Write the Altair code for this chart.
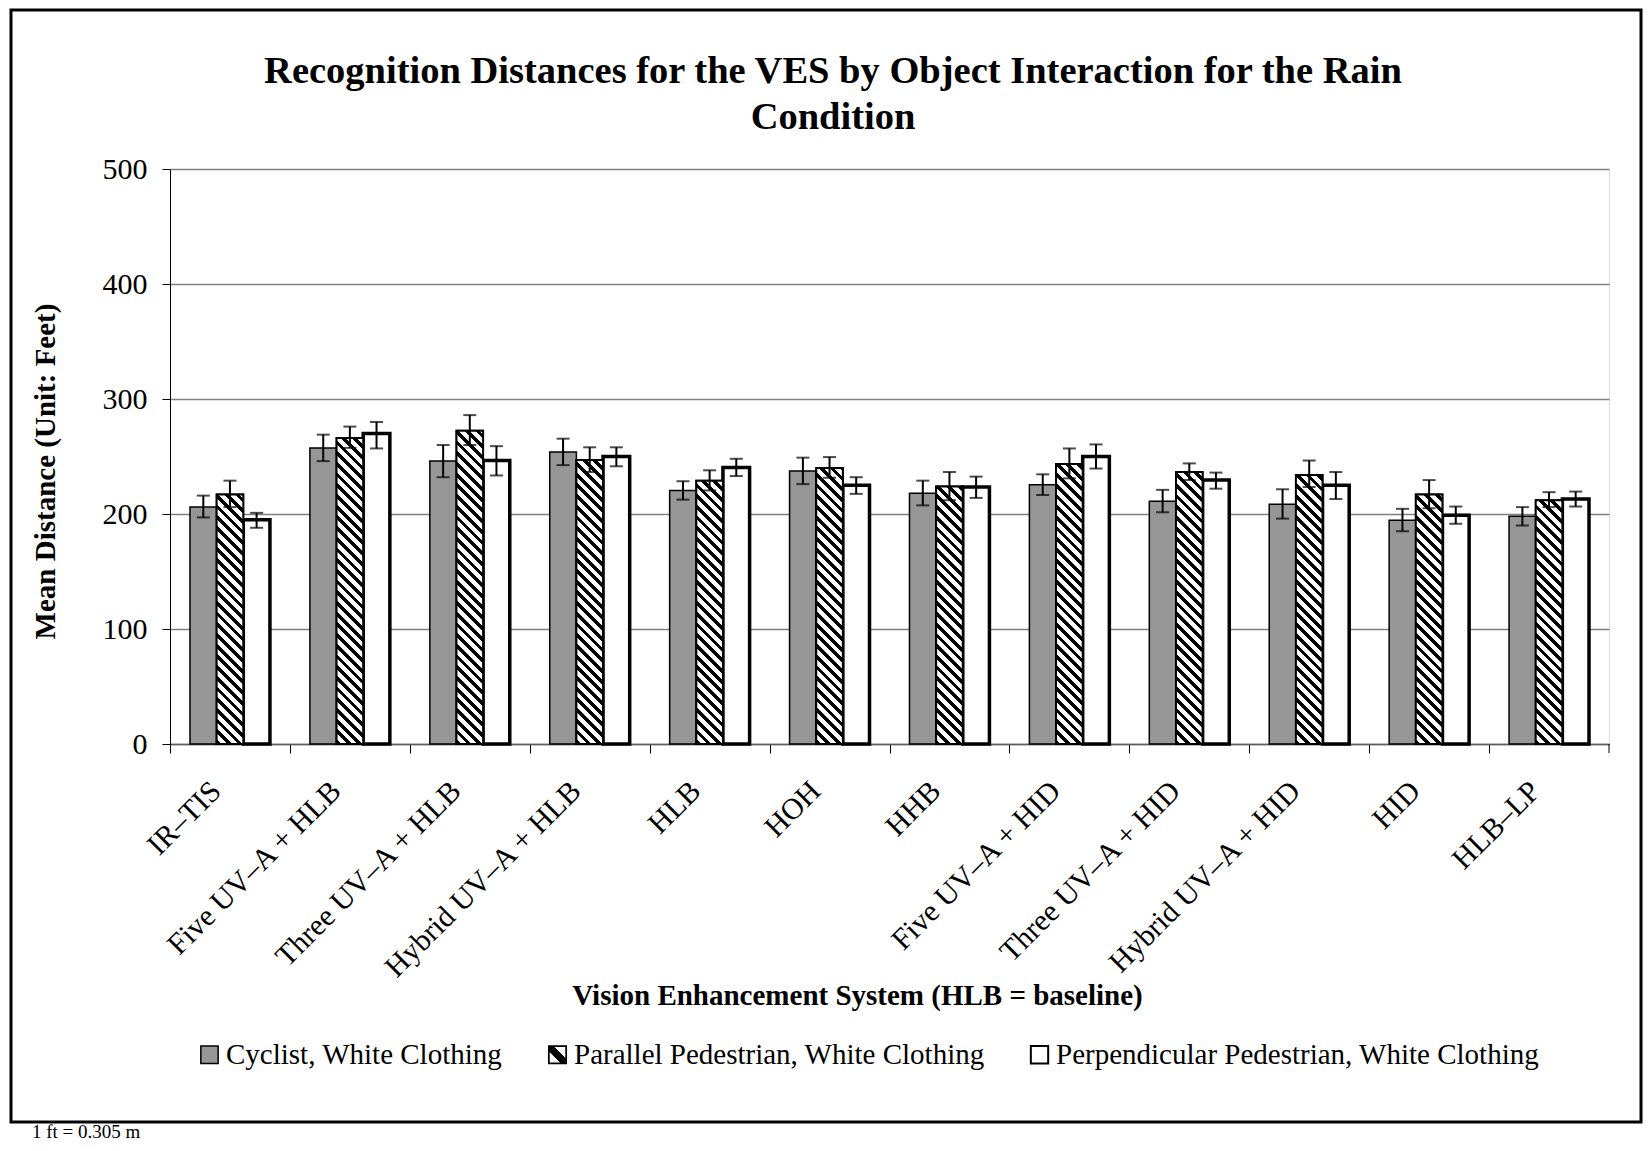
import altair as alt
import pandas as pd

# ---------------- data ----------------
ves = ["IR–TIS", "Five UV–A + HLB", "Three UV–A + HLB", "Hybrid UV–A + HLB", "HLB", "HOH",
       "HHB", "Five UV–A + HID", "Three UV–A + HID", "Hybrid UV–A + HID", "HID", "HLB–LP"]
series = ["Cyclist, White Clothing", "Parallel Pedestrian, White Clothing",
          "Perpendicular Pedestrian, White Clothing"]

cyclist = [206, 257.5, 246, 254, 220.5, 237.5, 218, 225.5, 211, 208.5, 194.5, 198]
cyclist_lo = [197, 246, 232, 242.5, 212.5, 226, 207.5, 216.5, 201.5, 196, 185, 190]
cyclist_hi = [216, 269, 260, 265.5, 228.5, 249, 229, 234.5, 221, 221.5, 204.5, 206]

parallel = [217, 266, 272.5, 247, 229, 240, 224, 243.5, 236.5, 234, 217, 212]
parallel_lo = [206, 257.5, 260, 236.5, 220.5, 231.5, 212, 231, 229.5, 223.5, 205, 206]
parallel_hi = [229, 276, 286, 258, 238, 249.5, 236.5, 257, 244, 246.5, 229.5, 219]

perp = [195, 270, 246.5, 250, 240.5, 225, 223.5, 250, 229.5, 225, 199, 213]
perp_lo = [188, 257, 233.5, 241.5, 233, 217.5, 214, 239.5, 222, 213, 191.5, 206.5]
perp_hi = [201, 280, 259, 258, 248, 232, 232.5, 260.5, 236, 236.5, 206.5, 219.5]

y_ticks = [0, 100, 200, 300, 400, 500]

title_lines = ["Recognition Distances for the VES by Object Interaction for the Rain",
               "Condition"]
x_title = "Vision Enhancement System (HLB = baseline)"
y_title = "Mean Distance (Unit: Feet)"
footnote = "1 ft = 0.305 m"

rows = []
for vals, los, his, s in [(cyclist, cyclist_lo, cyclist_hi, series[0]),
                          (parallel, parallel_lo, parallel_hi, series[1]),
                          (perp, perp_lo, perp_hi, series[2])]:
    for v, val, lo, hi in zip(ves, vals, los, his):
        rows.append({"ves": v, "series": s, "value": val, "lo": lo, "hi": hi})
df = pd.DataFrame(rows)

# ---------------- layout ----------------
W, H = 1439, 575
PAD_IN, PAD_OUT = 0.3333, 0.1667
SERIF = "Liberation Serif"

step = W / (len(ves) - PAD_IN + 2 * PAD_OUT)
bar_w = step * (1 - PAD_IN) / 3
half_step = step / 2


def hatch_gradient(h, w=bar_w, period=10.7, black=0.45):
    """Diagonal '\\' stripes as a hard-stop linear gradient in bbox units."""
    r = w / h
    s = (1 + r) / (1 + r * r)
    a, b = r * s, -s
    n = (w + h) / period
    stops = []
    k = 0
    while k / n < 1:
        t0 = k / n
        t1 = min((k + black) / n, 1)
        t2 = min((k + 1) / n, 1)
        stops += [{"offset": t0, "color": "black"}, {"offset": t1, "color": "black"},
                  {"offset": t1, "color": "white"}, {"offset": t2, "color": "white"}]
        k += 1
    return {"gradient": "linear", "x1": 0, "y1": 1, "x2": a, "y2": 1 + b, "stops": stops}


legend_hatch = ("{gradient: 'linear', x1: 0, y1: 1, x2: 1, y2: 0, stops: ["
                "{offset: 0, color: 'white'}, {offset: 0.36, color: 'white'},"
                "{offset: 0.36, color: 'black'}, {offset: 0.64, color: 'black'},"
                "{offset: 0.64, color: 'white'}, {offset: 1, color: 'white'}]}")

x_axis = alt.Axis(
    title=x_title,
    titleFont=SERIF, titleFontSize=29, titleFontWeight="bold", titleColor="black",
    titleX=687, titleY=251, titleBaseline="middle", titleAlign="center",
    labelFont=SERIF, labelFontSize=30, labelColor="black", labelAngle=-45,
    labelAlign="right", labelBaseline="middle", labelPadding=33,
    tickOffset=-half_step, labelOffset=half_step - 14,
    labelLimit=0, tickSize=9, tickColor="black", tickWidth=1,
    domainColor="#606060", domainWidth=1.5, grid=False,
)
y_axis = alt.Axis(
    title=y_title, values=y_ticks,
    titleFont=SERIF, titleFontSize=29, titleFontWeight="bold", titleColor="black",
    titleX=-125, titleY=302, titleAngle=270, titleBaseline="middle", titleAlign="center",
    labelFont=SERIF, labelFontSize=30, labelColor="black", labelPadding=15,
    tickSize=8, tickColor="black", tickWidth=1, domainColor="black", domainWidth=1,
    grid=True, gridColor="#808080", gridWidth=1.5,
)


def X():
    return alt.X("ves:N", sort=ves, axis=x_axis,
                 scale=alt.Scale(domain=ves, paddingInner=PAD_IN, paddingOuter=PAD_OUT))


def XO():
    return alt.XOffset("series:N", sort=series, scale=alt.Scale(domain=series))


def Y(field):
    return alt.Y(f"{field}:Q", axis=y_axis, scale=alt.Scale(domain=[0, 500]))


legend = alt.Legend(
    title=None, orient="none", legendX=25, legendY=871,
    direction="horizontal", symbolType="square", symbolSize=300,
    labelFont=SERIF, labelFontSize=29, labelColor="black", labelOffset=2,
    columnPadding=40, labelLimit=0)

base = alt.Chart(df)

# base bars (also carry the legend)
bars = base.mark_bar().encode(
    x=X(), xOffset=XO(), y=Y("value"),
    fill=alt.Fill("series:N", sort=series,
                  scale=alt.Scale(domain=series,
                                  range=["#969696", {"expr": legend_hatch}, "white"]),
                  legend=legend),
    stroke=alt.Stroke("series:N", sort=series,
                      scale=alt.Scale(domain=series, range=["black", "black", "black"]),
                      legend=legend),
    strokeWidth=alt.StrokeWidth("series:N", sort=series,
                                scale=alt.Scale(domain=series, range=[1.5, 2, 3.5]),
                                legend=legend),
)

perp_bars = base.transform_filter(alt.datum.series == series[2]).mark_bar(
    fill="white", stroke="black", strokeWidth=3.5).encode(
    x=X(), xOffset=XO(), y=Y("value"))

hatch_layers = []
for v, val in zip(ves, parallel):
    h_px = val * H / 500
    hatch_layers.append(
        base.transform_filter(
            (alt.datum.ves == v) & (alt.datum.series == series[1])
        ).mark_bar(fill=hatch_gradient(h_px), stroke="black", strokeWidth=2).encode(
            x=X(), xOffset=XO(), y=Y("value"))
    )

err = base.mark_rule(color="black", strokeWidth=2).encode(
    x=X(), xOffset=XO(), y=Y("lo"), y2="hi:Q")
cap_lo = base.mark_tick(color="black", size=13, thickness=2).encode(
    x=X(), xOffset=XO(), y=Y("lo"))
cap_hi = base.mark_tick(color="black", size=13, thickness=2).encode(
    x=X(), xOffset=XO(), y=Y("hi"))

one = pd.DataFrame({"k": [0]})
end_tick = alt.Chart(one).mark_rule(color="black", strokeWidth=1).encode(
    x=alt.value(W), y=alt.value(H), y2=alt.value(H + 9))
border = alt.Chart(one).mark_rect(filled=False, stroke="black", strokeWidth=3).encode(
    x=alt.value(-159), x2=alt.value(1471), y=alt.value(-159), y2=alt.value(953))
foot = alt.Chart(one).mark_text(font=SERIF, fontSize=19, align="left",
                                baseline="alphabetic", color="black").encode(
    x=alt.value(-138), y=alt.value(969), text=alt.value(footnote))
title1 = alt.Chart(one).mark_text(font=SERIF, fontSize=38.5, fontWeight="bold",
                                  align="center", baseline="middle", color="black").encode(
    x=alt.value(663), y=alt.value(-98.5), text=alt.value(title_lines[0]))
title2 = alt.Chart(one).mark_text(font=SERIF, fontSize=38.5, fontWeight="bold",
                                  align="center", baseline="middle", color="black").encode(
    x=alt.value(663), y=alt.value(-52), text=alt.value(title_lines[1]))

chart = alt.layer(bars, perp_bars, *hatch_layers, err, cap_lo, cap_hi, end_tick,
                  border, foot, title1, title2).properties(
    width=W, height=H,
    autosize=alt.AutoSizeParams(type="none"),
    padding={"left": 162, "top": 161, "right": 35, "bottom": 399},
).configure_view(stroke="#808080", strokeWidth=1.5).configure(background="white")

chart.save("out.html", embed_options={"renderer": "svg", "actions": False})
